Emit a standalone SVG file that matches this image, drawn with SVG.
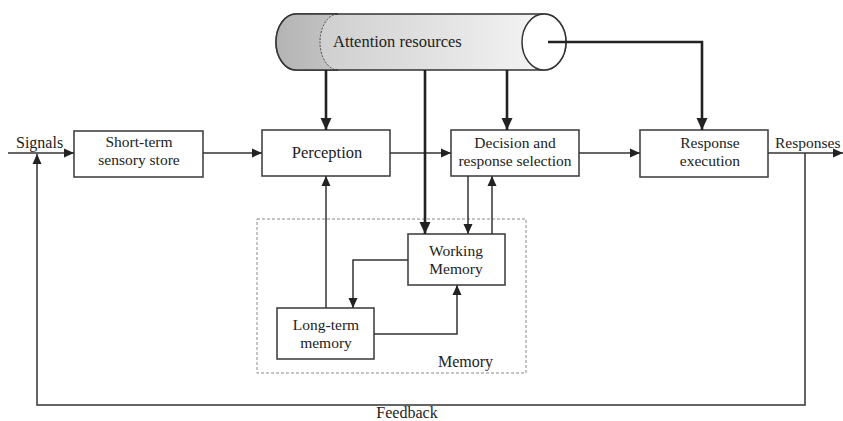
<svg xmlns="http://www.w3.org/2000/svg" width="843" height="421" viewBox="0 0 843 421">
<style>
text{font-family:"Liberation Serif","Times New Roman",serif;font-size:16px;fill:#222}
.two{font-size:15.5px}
.box{fill:#fff;stroke:#444;stroke-width:1.6}
.ln{fill:none;stroke:#333;stroke-width:1.5}
.thk{fill:none;stroke:#222;stroke-width:2.6}
.mid{text-anchor:middle}
</style>
<defs>
<marker id="ah" markerUnits="userSpaceOnUse" markerWidth="10" markerHeight="10" refX="10" refY="5" orient="auto">
<path d="M0,0.5 L10,5 L0,9.5 Z" fill="#222"/>
</marker>
<marker id="ahb" markerUnits="userSpaceOnUse" markerWidth="12" markerHeight="12" refX="12" refY="6" orient="auto">
<path d="M0,0.5 L12,6 L0,11.5 Z" fill="#222"/>
</marker>
<linearGradient id="body" x1="320" y1="0" x2="545" y2="0" gradientUnits="userSpaceOnUse">
<stop offset="0" stop-color="#cfcfcf"/>
<stop offset="1" stop-color="#f4f4f4"/>
</linearGradient>
<linearGradient id="cap" x1="276" y1="0" x2="338" y2="0" gradientUnits="userSpaceOnUse">
<stop offset="0" stop-color="#b4b4b4"/>
<stop offset="1" stop-color="#c4c4c4"/>
</linearGradient>
</defs>

<g id="attention">
<path d="M296,14 L544,14 A22,28 0 0 1 544,70 L296,70 A20,28 0 0 1 296,14 Z" fill="url(#body)" stroke="#333" stroke-width="1.5"/>
<path d="M338,14 L296,14 A20,28 0 0 0 296,70 L338,70 A18,28 0 0 1 338,14 Z" fill="url(#cap)"/>
<path d="M296,14 A20,28 0 0 0 296,70" fill="none" stroke="#333" stroke-width="1.5"/>
<path d="M338,70 A18,28 0 0 1 338,14" fill="none" stroke="#444" stroke-width="1" stroke-dasharray="2,1.5"/>
<line x1="296" y1="14" x2="338" y2="14" stroke="#333" stroke-width="1.5"/>
<line x1="296" y1="70" x2="338" y2="70" stroke="#333" stroke-width="1.5"/>
<ellipse cx="544" cy="42" rx="22" ry="28" fill="#fff" stroke="#333" stroke-width="1.5"/>
<text x="333" y="47" style="font-size:16.5px">Attention resources</text>
</g>

<g id="memory">
<rect x="257" y="219" width="269" height="154" fill="none" stroke="#888" stroke-width="1" stroke-dasharray="3,2"/>
<text x="438" y="367">Memory</text>
</g>

<g id="sensory">
<rect class="box" x="74" y="131" width="129" height="46"/>
<text class="mid two" x="139" y="147">Short-term</text>
<text class="mid two" x="139" y="165">sensory store</text>
</g>

<g id="perception">
<rect class="box" x="262" y="130" width="128" height="46"/>
<text class="mid" x="327" y="158" style="font-size:16.5px">Perception</text>
</g>

<g id="decision">
<rect class="box" x="451" y="130" width="128" height="46"/>
<text class="mid two" x="515" y="148">Decision and</text>
<text class="mid two" x="515" y="166">response selection</text>
</g>

<g id="response">
<rect class="box" x="640" y="130" width="128" height="47"/>
<text class="mid two" x="710" y="148">Response</text>
<text class="mid two" x="710" y="166">execution</text>
</g>

<g id="working">
<rect class="box" x="408" y="234" width="97" height="51"/>
<text class="mid two" x="456" y="256">Working</text>
<text class="mid two" x="456" y="274">Memory</text>
</g>

<g id="longterm">
<rect class="box" x="277" y="308" width="97" height="51"/>
<text class="mid two" x="326" y="330">Long-term</text>
<text class="mid two" x="326" y="348">memory</text>
</g>

<g id="labels">
<text x="16" y="148">Signals</text>
<text x="775" y="148" class="two">Responses</text>
<text class="mid" x="407" y="418">Feedback</text>
</g>

<g id="connectors">
<path class="ln" d="M8,153 L74,153" marker-end="url(#ah)"/>
<path class="ln" d="M805,153 L805,405 L37,405 L37,154" marker-end="url(#ah)"/>
<path class="ln" d="M203,153 L262,153" marker-end="url(#ah)"/>
<path class="ln" d="M390,153 L451,153" marker-end="url(#ah)"/>
<path class="ln" d="M579,153 L640,153" marker-end="url(#ah)"/>
<path class="ln" d="M768,153 L843,153" marker-end="url(#ah)"/>
<path class="thk" d="M326,70 L326,130" marker-end="url(#ahb)"/>
<path class="thk" d="M425,70 L425,234" marker-end="url(#ahb)"/>
<path class="thk" d="M507,70 L507,130" marker-end="url(#ahb)"/>
<path class="thk" d="M548,42 L702,42 L702,130" marker-end="url(#ahb)"/>
<path class="ln" d="M468,176 L468,234" marker-end="url(#ah)"/>
<path class="ln" d="M492,234 L492,176" marker-end="url(#ah)"/>
<path class="ln" d="M408,260 L353,260 L353,308" marker-end="url(#ah)"/>
<path class="ln" d="M374,334 L457,334 L457,285" marker-end="url(#ah)"/>
<path class="ln" d="M326,308 L326,176" marker-end="url(#ah)"/>
</g>
</svg>
